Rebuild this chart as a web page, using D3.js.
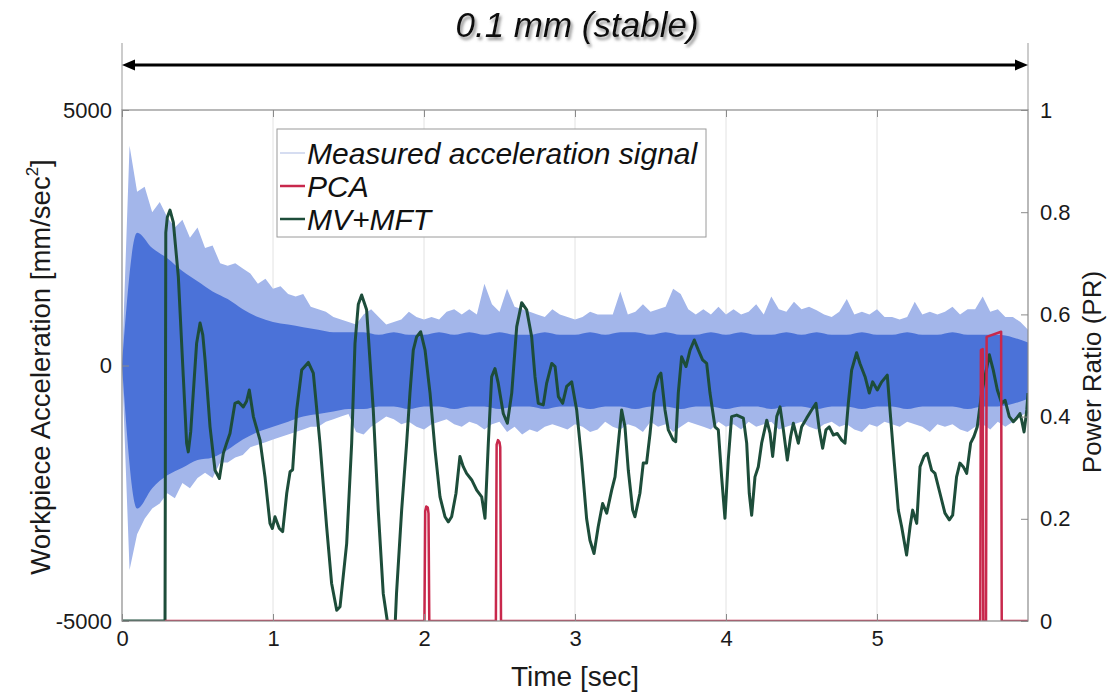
<!DOCTYPE html>
<html>
<head>
<meta charset="utf-8">
<script src="https://cdn.jsdelivr.net/npm/d3@7"></script>
<style>
body{margin:0;background:#fff}
svg{display:block;font-family:"Liberation Sans",Arial,sans-serif}
</style>
</head>
<body>
<svg id="chart" width="1114" height="694"></svg>
<script>
// ===== DATA =====
const xTicks = [0,1,2,3,4,5]
const accTicks = [-5000,0,5000]
const prTicks = [0,0.2,0.4,0.6,0.8,1]

// measured signal envelope, one value every 0.05 s (light spikes)
const sigStep = 0.05
const sigHi = [0,4300,3400,3500,3000,3200,2900,2700,2850,2500,
 2700,2300,2350,2000,1950,2000,1900,1800,1600,1700,
 1500,1550,1400,1350,1400,1150,1100,1050,950,900,
 850,800,1000,1100,950,800,850,900,1050,950,
 900,950,900,1050,1100,1000,1100,1000,1600,1200,
 1050,1500,1150,1100,1050,1000,950,1100,1000,950,
 900,950,1050,1000,1000,1000,1450,1000,1050,1200,
 1050,1100,1150,1500,1400,1100,1000,1100,1000,1150,
 1000,1100,1000,1050,1200,1000,1350,1100,1050,1250,
 1100,1150,1080,1000,950,1050,1300,1000,1050,1000,
 1100,950,950,900,950,1250,1000,1050,1000,1050,
 1150,1000,1100,1100,1350,1050,1100,950,950,850,
 700]
const sigLo = [0,-4000,-3300,-3000,-2800,-2700,-2500,-2600,-2300,-2400,
 -2200,-2100,-2200,-1900,-1900,-1800,-1750,-1600,-1550,-1500,
 -1450,-1400,-1350,-1300,-1250,-1200,-1200,-1100,-1050,-1000,
 -950,-1300,-1350,-1200,-1100,-1000,-1050,-1150,-1100,-1200,
 -1250,-1150,-1100,-1050,-1150,-1200,-1100,-1150,-1250,-1150,
 -1100,-1300,-1200,-1350,-1250,-1300,-1200,-1150,-1200,-1250,
 -1150,-1200,-1300,-1250,-1100,-1200,-1250,-1150,-1200,-1300,
 -1100,-1200,-1150,-1300,-1200,-1100,-1150,-1200,-1250,-1100,
 -1200,-1150,-1250,-1100,-1200,-1150,-1100,-1250,-1200,-1150,
 -1100,-1200,-1250,-1150,-1100,-1200,-1150,-1250,-1300,-1150,
 -1200,-1100,-1150,-1200,-1100,-1150,-1200,-1300,-1150,-1200,
 -1150,-1250,-1300,-1200,-1150,-1250,-1100,-1200,-1100,-1000,
 -900]

// dense core of the signal, one value every 0.1 s
const coreStep = 0.1
const coreHi = [0,2600,2300,2100,1850,1650,1450,1300,1100,950,
 850,800,750,700,650,650,650,600,650,600,
 600,650,600,650,600,650,600,600,650,600,
 600,650,600,650,650,600,650,600,600,650,
 600,650,600,600,650,600,650,600,600,650,
 600,600,650,600,600,650,600,600,600,550,450]
const coreLo = [0,-2800,-2400,-2150,-2000,-1850,-1800,-1650,-1450,-1300,
 -1200,-1100,-1000,-950,-900,-850,-850,-800,-800,-850,
 -800,-800,-850,-800,-800,-850,-800,-800,-850,-800,
 -800,-850,-800,-800,-850,-800,-800,-850,-800,-800,
 -850,-800,-800,-850,-800,-800,-850,-800,-800,-850,
 -800,-800,-850,-800,-800,-800,-850,-800,-800,-750,-650]

// MV+MFT power ratio
const mvT = [0,0.285,0.29,0.30,0.318,0.34,0.373,0.406,0.428,0.439,0.455,0.472,0.494,0.517,0.535,0.55,0.583,0.616,0.645,0.671,
 0.695,0.715,0.748,0.770,0.803,0.825,0.843,0.870,0.914,0.947,0.98,0.996,1.013,1.042,1.064,1.091,1.113,1.13,1.157,1.19,
 1.234,1.267,1.311,1.355,1.388,1.422,1.444,1.488,1.521,1.543,1.565,1.587,1.62,1.664,1.697,1.73,1.757,1.775,1.795,1.81,
 1.818,1.852,1.885,1.907,1.929,1.951,1.978,2.007,2.04,2.073,2.106,2.139,2.161,2.183,2.212,2.238,2.26,2.282,2.316,2.349,
 2.382,2.404,2.426,2.448,2.470,2.492,2.525,2.552,2.581,2.614,2.647,2.680,2.713,2.735,2.757,2.790,2.812,2.846,2.868,2.89,
 2.918,2.945,2.978,3.011,3.044,3.077,3.099,3.126,3.154,3.183,3.21,3.243,3.265,3.287,3.309,3.331,3.353,3.382,3.397,3.430,
 3.452,3.474,3.497,3.523,3.552,3.569,3.596,3.618,3.651,3.667,3.684,3.706,3.735,3.762,3.790,3.817,3.845,3.872,3.894,3.927,
 3.949,3.971,3.993,4.015,4.037,4.071,4.115,4.137,4.154,4.170,4.192,4.214,4.236,4.270,4.292,4.309,4.336,4.358,4.380,4.406,
 4.428,4.446,4.479,4.501,4.534,4.567,4.596,4.618,4.640,4.662,4.684,4.711,4.737,4.766,4.788,4.810,4.832,4.865,4.887,4.921,
 4.949,4.971,5.002,5.031,5.068,5.086,5.113,5.141,5.163,5.196,5.219,5.236,5.263,5.285,5.311,5.333,5.362,5.384,5.417,5.450,
 5.479,5.501,5.527,5.549,5.571,5.594,5.620,5.642,5.664,5.693,5.715,5.744,5.770,5.797,5.826,5.848,5.876,5.903,5.925,5.947,
 5.958,5.974,5.992,6.0]
const mvPR = [0,0,0.76,0.79,0.804,0.78,0.674,0.478,0.348,0.331,0.37,0.446,0.543,0.583,0.56,0.511,0.380,0.295,0.279,0.328,
 0.35,0.367,0.426,0.429,0.419,0.43,0.452,0.40,0.354,0.282,0.191,0.181,0.204,0.181,0.175,0.25,0.292,0.296,0.413,0.491,
 0.506,0.485,0.348,0.185,0.074,0.021,0.028,0.152,0.348,0.543,0.62,0.638,0.609,0.413,0.217,0.054,0.0,-0.03,-0.03,0.0,
 0.054,0.217,0.348,0.446,0.530,0.556,0.566,0.530,0.446,0.335,0.243,0.204,0.194,0.204,0.25,0.322,0.302,0.289,0.276,0.256,
 0.243,0.201,0.348,0.478,0.494,0.465,0.406,0.387,0.446,0.576,0.623,0.609,0.556,0.478,0.426,0.423,0.465,0.504,0.498,0.439,
 0.426,0.459,0.468,0.413,0.315,0.2,0.158,0.132,0.185,0.230,0.211,0.256,0.282,0.348,0.413,0.380,0.295,0.217,0.204,0.25,
 0.309,0.309,0.367,0.446,0.478,0.485,0.413,0.374,0.354,0.351,0.446,0.517,0.498,0.530,0.550,0.530,0.511,0.504,0.446,0.380,
 0.374,0.282,0.201,0.315,0.400,0.403,0.397,0.348,0.25,0.207,0.282,0.302,0.348,0.393,0.367,0.322,0.400,0.419,0.374,0.315,
 0.361,0.387,0.348,0.380,0.397,0.413,0.426,0.374,0.338,0.374,0.380,0.364,0.367,0.354,0.348,0.426,0.491,0.525,0.504,0.478,
 0.446,0.468,0.452,0.468,0.481,0.413,0.315,0.217,0.185,0.129,0.185,0.217,0.191,0.302,0.322,0.328,0.295,0.289,0.25,0.211,
 0.198,0.207,0.282,0.309,0.302,0.289,0.348,0.361,0.380,0.446,0.478,0.521,0.491,0.452,0.426,0.432,0.400,0.390,0.397,0.406,
 0.393,0.370,0.413,0.446]

// PCA power ratio
const pcaT = [0.285,2.003,2.008,2.015,2.025,2.030,2.035,2.476,2.481,2.490,2.500,2.505,2.510,5.684,5.688,5.700,5.704,5.722,5.726,5.822,5.826,6.0]
const pcaPR = [0,0,0.215,0.224,0.222,0.21,0,0,0.345,0.354,0.35,0.34,0,0,0.53,0.532,0,0,0.556,0.566,0,0]

const legendLabels = ["Measured acceleration signal","PCA","MV+MFT"]
const colors = {sigLight:"#a3b6ea", sig:"#4b72d8", legendSig:"#c9d2ec", pca:"#c8284c", mv:"#1d4d3a"}

// ===== SETUP =====
const svg = d3.select("#chart")
const L=122, R=1028, T=110, B=621

const x = d3.scaleLinear().domain([0,6]).range([L,R])
const yA = d3.scaleLinear().domain([-5000,5000]).range([B,T])
const yP = d3.scaleLinear().domain([0,1]).range([B,T])

const defs = svg.append("defs")
defs.append("clipPath").attr("id","plotClip")
.append("rect").attr("x",L).attr("y",T).attr("width",R-L).attr("height",B-T)

defs.append("filter").attr("id","shadow")
.attr("x","-10%").attr("y","-30%").attr("width","120%").attr("height","170%")
.append("feDropShadow")
.attr("dx",2).attr("dy",3).attr("stdDeviation",1.5)
.attr("flood-color","#777").attr("flood-opacity",0.8)

// ===== TITLE + ARROW =====
svg.append("text")
.attr("x",577).attr("y",37)
.attr("text-anchor","middle")
.attr("font-size",35).attr("font-style","italic")
.attr("fill","#111").attr("filter","url(#shadow)")
.text("0.1 mm (stable)")

;[L,R].forEach(px=>{
  svg.append("line").attr("x1",px).attr("x2",px).attr("y1",43).attr("y2",T)
  .attr("stroke","#999").attr("stroke-width",1)
})

svg.append("line").attr("x1",L+8).attr("x2",R-8).attr("y1",65).attr("y2",65)
.attr("stroke","#000").attr("stroke-width",3)

svg.append("path").attr("d",`M${L},65 L${L+13},59.5 L${L+13},70.5 Z`).attr("fill","#000")
svg.append("path").attr("d",`M${R},65 L${R-13},59.5 L${R-13},70.5 Z`).attr("fill","#000")

// ===== GRID =====
svg.append("g").selectAll("line")
.data(xTicks.filter(d=>d>0))
.enter().append("line")
.attr("x1",d=>x(d)).attr("x2",d=>x(d))
.attr("y1",T).attr("y2",B)
.attr("stroke","#e2e2e2").attr("stroke-width",1)

// ===== SIGNAL =====
const plot = svg.append("g").attr("clip-path","url(#plotClip)")

const outer = sigHi.map((v,i)=>({t:i*sigStep, hi:v, lo:sigLo[i]}))
const core = coreHi.map((v,i)=>({t:i*coreStep, hi:v, lo:coreLo[i]}))

plot.append("path")
.datum(outer)
.attr("fill",colors.sigLight)
.attr("d",d3.area().x(d=>x(d.t)).y0(d=>yA(d.lo)).y1(d=>yA(d.hi)))

plot.append("path")
.datum(core)
.attr("fill",colors.sig)
.attr("d",d3.area().x(d=>x(d.t)).y0(d=>yA(d.lo)).y1(d=>yA(d.hi)).curve(d3.curveMonotoneX))

// ===== MV+MFT =====
const line = d3.line().x(d=>x(d[0])).y(d=>yP(d[1]))

plot.append("path")
.datum(mvT.map((t,i)=>[t,mvPR[i]]))
.attr("fill","none")
.attr("stroke",colors.mv)
.attr("stroke-width",3)
.attr("stroke-linejoin","round")
.attr("d",line)

// ===== PCA =====
plot.append("path")
.datum(pcaT.map((t,i)=>[t,pcaPR[i]]))
.attr("fill","none")
.attr("stroke",colors.pca)
.attr("stroke-width",2.5)
.attr("stroke-linejoin","round")
.attr("d",line)

// ===== AXES =====
const axColor = "#8a8a8a"

svg.append("rect").attr("x",L).attr("y",T).attr("width",R-L).attr("height",B-T)
.attr("fill","none").attr("stroke",axColor).attr("stroke-width",1.2)

function styleAxis(g){
  g.select(".domain").remove()
  g.selectAll(".tick line").attr("stroke",axColor)
  g.selectAll(".tick text").attr("fill","#1a1a1a").attr("font-size",22)
}

svg.append("g").attr("transform",`translate(0,${B})`)
.call(d3.axisBottom(x).tickValues(xTicks).tickSizeInner(-7).tickSizeOuter(0).tickPadding(9).tickFormat(d=>String(d)))
.call(styleAxis)

svg.append("g").attr("transform",`translate(0,${T})`)
.call(d3.axisTop(x).tickValues(xTicks).tickSizeInner(-7).tickSizeOuter(0).tickFormat(""))
.call(styleAxis)

svg.append("g").attr("transform",`translate(${L},0)`)
.call(d3.axisLeft(yA).tickValues(accTicks).tickSizeInner(-7).tickSizeOuter(0).tickPadding(10).tickFormat(d=>String(d)))
.call(styleAxis)

svg.append("g").attr("transform",`translate(${R},0)`)
.call(d3.axisRight(yP).tickValues(prTicks).tickSizeInner(-7).tickSizeOuter(0).tickPadding(12).tickFormat(d=>String(d)))
.call(styleAxis)

// AXIS LABELS
svg.append("text")
.attr("x",575).attr("y",686)
.attr("text-anchor","middle").attr("font-size",28).attr("fill","#1a1a1a")
.text("Time [sec]")

const yl = svg.append("text")
.attr("transform","translate(50,367) rotate(-90)")
.attr("text-anchor","middle").attr("font-size",27.5).attr("fill","#1a1a1a")
yl.append("tspan").text("Workpiece Acceleration [mm/sec")
yl.append("tspan").attr("font-size",17).attr("dy",-12).text("2")
yl.append("tspan").attr("dy",12).text("]")

svg.append("text")
.attr("transform","translate(1101,372) rotate(-90)")
.attr("text-anchor","middle").attr("font-size",26).attr("fill","#1a1a1a")
.text("Power Ratio (PR)")

// ===== LEGEND =====
const legend = svg.append("g")

legend.append("rect")
.attr("x",277).attr("y",129).attr("width",429).attr("height",108)
.attr("fill","#fff").attr("stroke","#9a9a9a").attr("stroke-width",1)

const legColors = [colors.legendSig, colors.pca, colors.mv]
legendLabels.forEach((lab,i)=>{
  const yy = 153 + i*33
  legend.append("line")
  .attr("x1",280).attr("x2",305).attr("y1",yy).attr("y2",yy)
  .attr("stroke",legColors[i]).attr("stroke-width",i===0?1.5:2.5)
  legend.append("text")
  .attr("x",307).attr("y",yy+11)
  .attr("font-size",30).attr("font-style","italic").attr("fill","#111")
  .text(lab)
})
</script>
</body>
</html>
